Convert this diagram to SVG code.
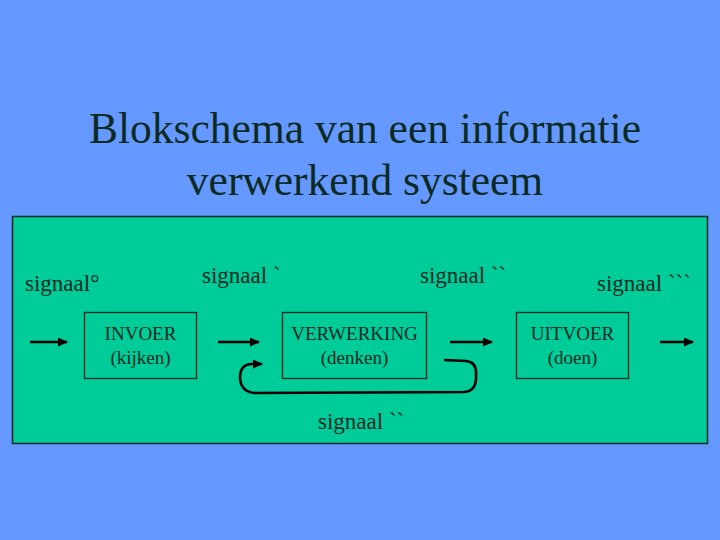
<svg xmlns="http://www.w3.org/2000/svg" width="720" height="540" viewBox="0 0 720 540">
<style>
.t{font-family:"Liberation Serif","Times New Roman",serif;fill:#0a2a22}
.box{fill:none;stroke:#0a2a22;stroke-width:1.3}
.ln{fill:none;stroke:#000;stroke-width:2.6}
</style>
<defs>
<marker id="ah" markerWidth="11" markerHeight="9" refX="9" refY="4.5" orient="auto" markerUnits="userSpaceOnUse">
<path d="M0,0 L10,4.5 L0,9 Z" fill="#000"/>
</marker>
</defs>
<rect width="720" height="540" fill="#6699ff"/>
<text class="t" x="365" y="143" font-size="43.5" text-anchor="middle" fill="#000">Blokschema van een informatie</text>
<text class="t" x="365" y="195" font-size="43.5" text-anchor="middle">verwerkend systeem</text>
<rect x="12.5" y="216.5" width="695" height="227" fill="#00cc99" stroke="#0a2a22" stroke-width="1.5"/>
<text class="t" x="25" y="291" font-size="23">signaal°</text>
<text class="t" x="202" y="283" font-size="23">signaal `</text>
<text class="t" x="420" y="283" font-size="23">signaal ``</text>
<text class="t" x="597" y="291" font-size="23">signaal ```</text>
<text class="t" x="318" y="429" font-size="23">signaal ``</text>
<g id="invoer">
<rect class="box" x="84.5" y="312.5" width="112" height="66"/>
<text class="t" x="140.5" y="340" font-size="19" text-anchor="middle">INVOER</text>
<text class="t" x="140.5" y="364" font-size="19" text-anchor="middle">(kijken)</text>
</g>
<g id="verwerking">
<rect class="box" x="282.5" y="312.5" width="144" height="66"/>
<text class="t" x="354.5" y="340" font-size="19" text-anchor="middle">VERWERKING</text>
<text class="t" x="354.5" y="364" font-size="19" text-anchor="middle">(denken)</text>
</g>
<g id="uitvoer">
<rect class="box" x="516.5" y="312.5" width="112" height="66"/>
<text class="t" x="572.5" y="340" font-size="19" text-anchor="middle">UITVOER</text>
<text class="t" x="572.5" y="364" font-size="19" text-anchor="middle">(doen)</text>
</g>
<g id="connectors">
<line class="ln" x1="30" y1="342" x2="67" y2="342" marker-end="url(#ah)"/>
<line class="ln" x1="218" y1="342" x2="259" y2="342" marker-end="url(#ah)"/>
<line class="ln" x1="450" y1="342" x2="492" y2="342" marker-end="url(#ah)"/>
<line class="ln" x1="660" y1="342" x2="693" y2="342" marker-end="url(#ah)"/>
<path class="ln" d="M444,360 L466,361 Q477,362 476,375 Q477,391 464,392 L255,393 Q241,392 240,378 Q240,364 252,364 L262,364" marker-end="url(#ah)"/>
</g>
</svg>
